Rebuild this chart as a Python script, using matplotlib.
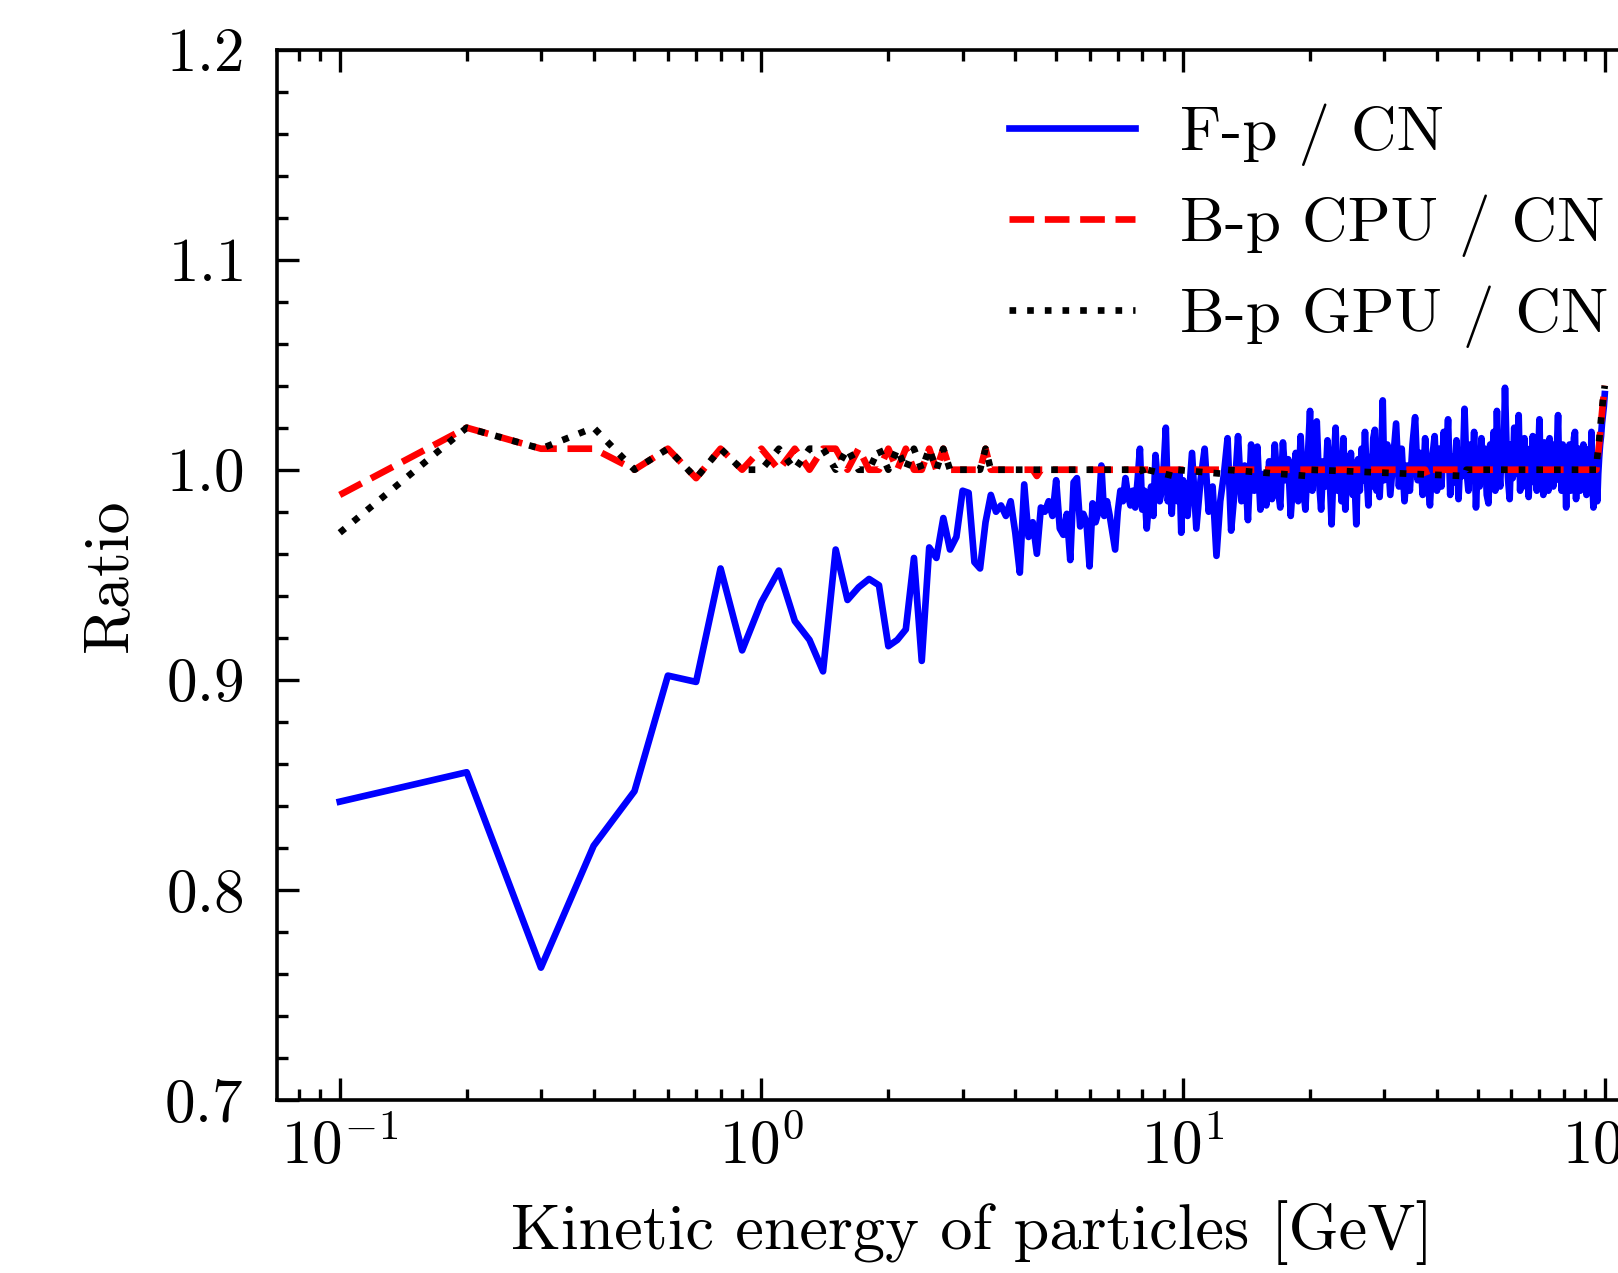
import numpy as np
import matplotlib
matplotlib.use('Agg')
import matplotlib.pyplot as plt
from matplotlib.ticker import MultipleLocator

plt.rcParams['font.family'] = 'serif'
plt.rcParams['font.serif'] = ['cmr10']
plt.rcParams['mathtext.fontset'] = 'cm'
plt.rcParams['axes.formatter.use_mathtext'] = True

# energy grids [GeV]
e_low = np.round(np.arange(1, 101) * 0.1, 1)      # 0.1 .. 10.0
e_mid = 10 + 0.25 * np.arange(1, 81)               # 10.25 .. 30
e_high = 30 + 0.5 * np.arange(1, 141)              # 30.5 .. 100

# F-p / CN ratio
fp_low = [0.842, 0.856, 0.763, 0.821, 0.847, 0.902, 0.899, 0.953, 0.914, 0.937,
          0.952, 0.928, 0.919, 0.904, 0.962, 0.938, 0.944, 0.948, 0.945, 0.916,
          0.919, 0.924, 0.958, 0.909, 0.963, 0.958, 0.977, 0.962, 0.968, 0.990,
          0.989, 0.956, 0.953, 0.975, 0.988, 0.980, 0.983, 0.978, 0.985, 0.970,
          0.951, 0.993, 0.968, 0.975, 0.960, 0.982, 0.980, 0.985, 0.978, 0.995,
          0.972, 0.969, 0.979, 0.957, 0.994, 0.996, 0.973, 0.979, 0.975, 0.954,
          0.984, 0.975, 0.980, 1.002, 0.978, 0.985, 0.978, 0.970, 0.962, 0.980,
          0.990, 0.985, 0.996, 0.988, 0.983, 0.990, 0.982, 0.995, 1.010, 0.981,
          0.990, 0.972, 0.985, 0.992, 0.978, 1.007, 0.995, 0.985, 0.990, 1.002,
          1.020, 0.985, 0.995, 0.979, 0.998, 0.992, 0.985, 1.000, 0.970, 0.995]
fp_mid = [0.978, 1.008, 0.972, 0.995, 1.010, 0.980, 0.992, 0.959, 0.985, 0.998,
          1.015, 0.971, 0.990, 1.016, 0.985, 1.002, 0.976, 1.012, 0.990, 1.011,
          0.981, 0.998, 0.983, 1.004, 0.986, 1.012, 0.992, 0.982, 1.013, 0.995,
          1.005, 0.978, 0.996, 1.008, 0.985, 1.016, 0.993, 0.981, 1.005, 1.028,
          0.990, 1.010, 1.023, 0.995, 0.981, 1.004, 0.992, 1.014, 0.998, 0.974,
          1.002, 1.020, 0.990, 1.006, 0.985, 1.015, 0.981, 1.000, 0.992, 1.008,
          0.988, 0.996, 0.974, 1.005, 0.990, 1.010, 0.995, 1.018, 0.998, 0.983,
          1.006, 0.992, 1.015, 1.019, 0.990, 1.008, 0.987, 1.004, 1.033, 0.995]
fp_high = [1.012, 0.988, 1.005, 1.022, 0.992, 1.010, 0.985, 1.002, 0.990, 1.012,
           1.025, 0.995, 1.008, 0.988, 1.015, 0.996, 0.983, 1.006, 1.016, 0.990,
           1.010, 0.992, 1.018, 1.002, 1.024, 0.988, 1.006, 0.994, 1.014, 0.986,
           1.008, 0.997, 1.029, 1.000, 0.990, 1.012, 0.995, 1.018, 0.982, 1.004,
           0.992, 1.015, 0.996, 1.010, 0.988, 0.984, 1.012, 0.998, 1.018, 0.990,
           1.028, 1.002, 0.992, 1.015, 1.000, 1.039, 1.010, 0.995, 0.986, 1.012,
           0.996, 1.020, 0.998, 1.008, 1.026, 0.990, 1.012, 0.996, 1.015, 0.992,
           1.006, 0.987, 1.010, 0.998, 1.016, 0.994, 1.012, 0.990, 1.004, 1.024,
           0.996, 1.010, 0.988, 1.013, 0.997, 1.008, 0.990, 1.015, 0.994, 1.006,
           0.992, 1.012, 0.998, 1.010, 1.026, 0.995, 1.008, 0.990, 1.012, 0.996,
           1.004, 0.982, 1.010, 0.994, 1.012, 0.990, 1.006, 0.997, 1.015, 1.018,
           0.986, 1.002, 0.993, 1.010, 0.990, 1.006, 0.996, 1.012, 0.992, 1.004,
           0.988, 1.008, 0.995, 1.010, 0.991, 1.018, 0.994, 0.982, 1.004, 0.992,
           1.002, 0.985, 0.998, 1.006, 1.012, 1.016, 1.022, 1.026, 1.030, 1.036]

e_fp = np.concatenate([e_low, e_mid, e_high])
fp = np.array(fp_low + fp_mid + fp_high)

# B-p CPU / CN ratio
e_cpu = list(np.round(np.arange(1, 36) * 0.1, 1)) + [4.4, 4.5, 4.6, 37.5, 38.0, 38.5,
                                                    95.5, 96.0, 97.0, 98.0, 99.0, 100.0]
cpu = [0.988, 1.02, 1.01, 1.01, 1.00, 1.01, 0.996, 1.01, 1.00, 1.01,
       1.00, 1.01, 1.00, 1.01, 1.01, 1.00, 1.01, 1.00, 1.00, 1.01,
       1.00, 1.01, 1.00, 1.00, 1.01, 1.00, 1.01, 1.00, 1.00, 1.00,
       1.00, 1.00, 1.00, 1.01, 1.00,
       1.00, 0.997, 1.00, 1.00, 0.997, 1.00,
       1.00, 1.004, 1.012, 1.022, 1.032, 1.040]

# B-p GPU / CN ratio
e_gpu = list(np.round(np.arange(1, 36) * 0.1, 1)) + [8.0, 8.1, 8.2, 9.5, 9.6, 12.5, 12.6,
                                                    19.8, 20.0, 46.5, 47.0,
                                                    95.5, 96.0, 97.0, 98.0, 99.0, 100.0]
gpu = [0.970, 1.02, 1.01, 1.02, 1.00, 1.01, 0.996, 1.01, 1.00, 1.00,
       1.01, 1.00, 1.01, 1.01, 1.00, 1.01, 1.00, 1.00, 1.01, 1.00,
       1.01, 1.00, 1.01, 1.00, 1.01, 1.00, 1.01, 1.00, 1.00, 1.00,
       1.00, 1.00, 1.00, 1.01, 1.00,
       1.00, 0.997, 1.00, 0.997, 1.00, 0.998, 1.00,
       0.997, 1.00, 0.997, 1.00,
       1.00, 1.006, 1.014, 1.024, 1.033, 1.040]

fs = 44
lw = 4.8

fig = plt.figure(figsize=(16.18, 12.73), dpi=100)
ax = fig.add_axes([0.1709, 0.1359, 0.860, 0.8252])

ax.plot(e_fp, fp, color='blue', lw=lw, label='F-p / CN')
ax.plot(e_cpu, cpu, color='red', lw=lw, ls='--', label='B-p CPU / CN')
ax.plot(e_gpu, gpu, color='black', lw=lw, ls=':', label='B-p GPU / CN')

ax.set_xscale('log')
ax.set_xlim(10 ** -1.15, 10 ** 2.15)
ax.set_ylim(0.7, 1.2)
ax.yaxis.set_major_locator(MultipleLocator(0.1))
ax.yaxis.set_minor_locator(MultipleLocator(0.02))

ax.tick_params(which='both', direction='in', top=True, right=True,
               labelsize=fs, width=2.4)
ax.tick_params(which='major', length=15.8)
ax.tick_params(which='minor', length=7.9)
ax.tick_params(axis='y', which='major', pad=24)
ax.tick_params(axis='x', which='major', pad=13)
for s in ax.spines.values():
    s.set_linewidth(2.6)

ax.set_xlabel('Kinetic energy of particles [GeV]', fontsize=46.2, labelpad=17)
ax.set_ylabel('Ratio', fontsize=46, labelpad=18)

ax.legend(frameon=False, fontsize=45.5, loc='upper left', labelspacing=0.45,
          handletextpad=0.7,
          bbox_to_anchor=(983.6 / 1618, 0.9382), bbox_transform=fig.transFigure,
          borderaxespad=0)

fig.savefig('out.png', dpi=100)
